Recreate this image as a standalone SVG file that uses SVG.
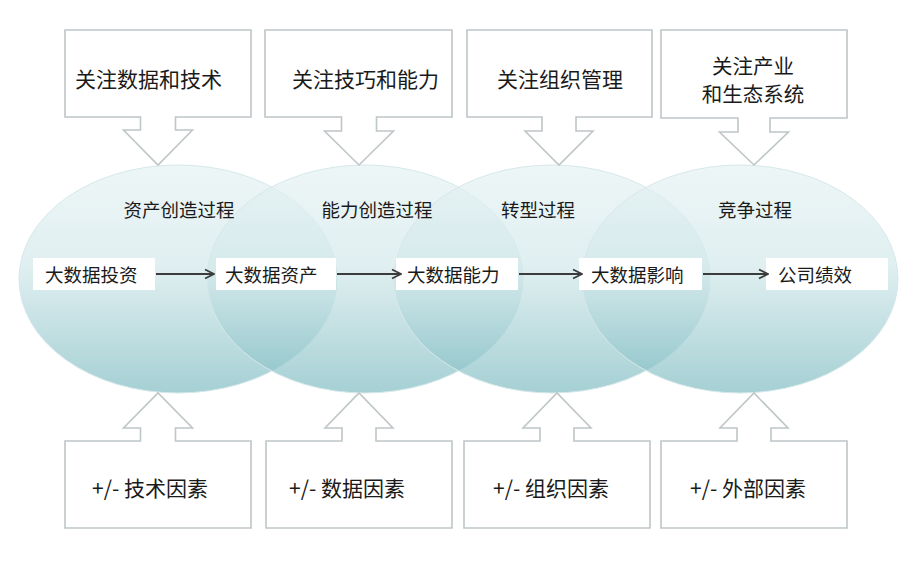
<svg xmlns="http://www.w3.org/2000/svg" width="918" height="565" viewBox="0 0 918 565">
<defs>
<linearGradient id="eg" x1="0" y1="0" x2="0" y2="1">
<stop offset="0" stop-color="#e6f2f3"/>
<stop offset="0.45" stop-color="#d2e8ea"/>
<stop offset="1" stop-color="#7fbcc2"/>
</linearGradient>
<marker id="ah" viewBox="0 0 12 12" refX="11" refY="6" markerWidth="12" markerHeight="12" markerUnits="userSpaceOnUse" orient="auto">
<polyline points="2,1.5 11,6 2,10.5" fill="none" stroke="#3c3c3c" stroke-width="1.8"/>
</marker>
<style>
.ell{fill:url(#eg);fill-opacity:0.7;stroke:#d6e8ea;stroke-width:1}
.co{fill:#ffffff;stroke:#bfc6c8;stroke-width:1.6}
.box{fill:#ffffff}
.t{font-family:"Noto Sans CJK SC","Liberation Sans",sans-serif;fill:#1a1a1a;dominant-baseline:central}
.big{font-size:21px}
.two{font-size:20.5px}
.mid{font-size:18.5px}
.lbl{font-size:18.5px}
.conn{stroke:#3c3c3c;stroke-width:1.8;fill:none;marker-end:url(#ah)}
</style>
</defs>
<rect width="918" height="565" fill="#ffffff"/>

<g id="ellipses">
<ellipse id="e1" class="ell" cx="178" cy="279" rx="159" ry="114"/>
<ellipse id="e2" class="ell" cx="365" cy="279" rx="158" ry="114"/>
<ellipse id="e3" class="ell" cx="552" cy="279" rx="158" ry="114"/>
<ellipse id="e4" class="ell" cx="740" cy="279" rx="158" ry="114"/>
</g>

<g id="process-labels">
<text class="t lbl" x="179" y="209" text-anchor="middle">资产创造过程</text>
<text class="t lbl" x="377" y="209" text-anchor="middle">能力创造过程</text>
<text class="t lbl" x="538" y="209" text-anchor="middle">转型过程</text>
<text class="t lbl" x="755" y="209" text-anchor="middle">竞争过程</text>
</g>

<g id="top1">
<path class="co" d="M65 30 H251 V117 H175.5 V130 H192.5 L158 165 L123.5 130 H140.5 V117 H65 Z"/>
<text class="t big" x="75" y="78">关注数据和技术</text>
</g>
<g id="top2">
<path class="co" d="M265 30 H452 V117 H376.5 V131 H393.5 L359 165 L324.5 131 H341.5 V117 H265 Z"/>
<text class="t big" x="292" y="78">关注技巧和能力</text>
</g>
<g id="top3">
<path class="co" d="M467 30 H652 V117 H576 V131 H593 L559 165 L525 131 H542 V117 H467 Z"/>
<text class="t big" x="497" y="78">关注组织管理</text>
</g>
<g id="top4">
<path class="co" d="M661 30 H847 V118 H770 V132 H788.5 L754 165 L719.5 132 H738 V118 H661 Z"/>
<text class="t two" x="753" y="65" text-anchor="middle">关注产业</text>
<text class="t two" x="753" y="93" text-anchor="middle">和生态系统</text>
</g>

<g id="bottom1">
<path class="co" d="M65 441 H140.5 V428 H123.5 L158 393 L192.5 428 H175.5 V441 H251 V528 H65 Z"/>
<text class="t big" x="92" y="487">+/- 技术因素</text>
</g>
<g id="bottom2">
<path class="co" d="M266 441 H342 V428 H325 L359 393 L393 428 H376 V441 H452 V528 H266 Z"/>
<text class="t big" x="289" y="487">+/- 数据因素</text>
</g>
<g id="bottom3">
<path class="co" d="M464 441 H540 V428 H523 L557 393 L591 428 H574 V441 H650 V528 H464 Z"/>
<text class="t big" x="493" y="487">+/- 组织因素</text>
</g>
<g id="bottom4">
<path class="co" d="M661 441 H737 V428 H720 L754 393 L788 428 H771 V441 H847 V528 H661 Z"/>
<text class="t big" x="690" y="487">+/- 外部因素</text>
</g>

<g id="n1"><rect class="box" x="33" y="258" width="122" height="32"/><text class="t mid" x="45" y="274">大数据投资</text></g>
<g id="n2"><rect class="box" x="216" y="258" width="120" height="32"/><text class="t mid" x="225" y="274">大数据资产</text></g>
<g id="n3"><rect class="box" x="396" y="258" width="122" height="32"/><text class="t mid" x="407" y="274">大数据能力</text></g>
<g id="n4"><rect class="box" x="579" y="258" width="123" height="32"/><text class="t mid" x="591" y="274">大数据影响</text></g>
<g id="n5"><rect class="box" x="766" y="258" width="122" height="32"/><text class="t mid" x="778" y="274">公司绩效</text></g>

<g id="connectors">
<line class="conn" x1="156" y1="274" x2="214" y2="274"/>
<line class="conn" x1="337" y1="274" x2="401" y2="274"/>
<line class="conn" x1="519" y1="274" x2="582" y2="274"/>
<line class="conn" x1="703" y1="274" x2="768" y2="274"/>
</g>
</svg>
